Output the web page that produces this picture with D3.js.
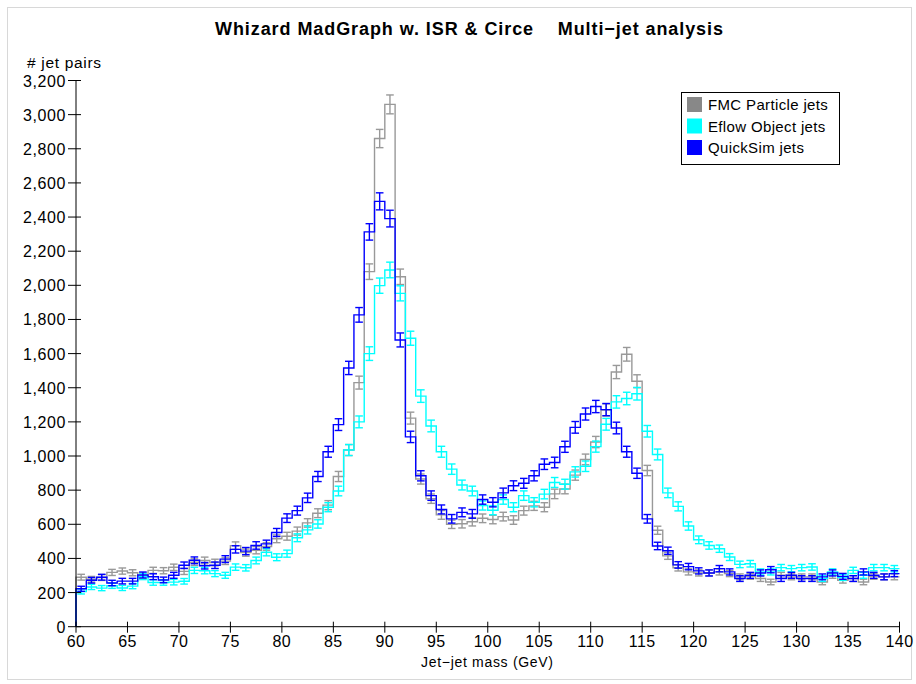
<!DOCTYPE html>
<head>
<style>
  body { margin: 0; background: #fff; }
  text { font-family: "Liberation Sans", Arial, sans-serif; }
</style>
</head>
<body>
<svg id="chart" width="916" height="684"></svg>
</body>

<script src="https://d3js.org/d3.v7.min.js"></script>
<script>

    // jet-jet mass bins: 60..139 GeV, 1 GeV wide (value = lower edge)
    let binLow = d3.range(60, 140)

    let fmcJets = [
        290, 278, 288, 318, 326, 316, 298, 330, 328, 348,
        324, 378, 388, 376, 384, 475, 434, 448, 470, 515,
        530, 560, 608, 665, 712, 880, 1035, 1430, 2080, 2860,
        3060, 2050, 1222, 865, 750, 655, 600, 603, 615, 635,
        628, 645, 625, 680, 708, 700, 778, 807, 888, 980,
        1082, 1270, 1492, 1596, 1438, 915, 565, 415, 345, 321,
        315, 315, 321, 311, 292, 295, 282, 262, 301, 292,
        292, 292, 262, 301, 272, 282, 262, 295, 292, 292
    ]

    let eflowJets = [
        206, 233, 226, 240, 227, 238, 293, 259, 259, 261,
        266, 330, 328, 311, 301, 349, 345, 388, 436, 407,
        428, 521, 567, 602, 700, 795, 1035, 1200, 1600, 1998,
        2090, 1953, 1690, 1351, 1176, 1025, 923, 830, 795, 710,
        682, 745, 700, 768, 729, 777, 845, 835, 907, 940,
        1055, 1186, 1317, 1337, 1365, 1145, 1009, 784, 705, 590,
        509, 476, 457, 408, 365, 369, 321, 321, 346, 340,
        346, 350, 282, 321, 288, 330, 301, 346, 346, 340
    ]

    let quickSimJets = [
        222, 272, 290, 256, 267, 267, 303, 293, 274, 301,
        360, 389, 357, 360, 396, 453, 443, 476, 485, 552,
        636, 680, 755, 880, 1025, 1184, 1516, 1827, 2313, 2492,
        2391, 1680, 1112, 884, 768, 687, 632, 670, 661, 745,
        729, 784, 826, 840, 884, 952, 962, 1054, 1168, 1246,
        1290, 1272, 1164, 1025, 899, 632, 473, 445, 362, 352,
        327, 315, 340, 321, 282, 301, 315, 334, 282, 301,
        282, 282, 292, 315, 295, 282, 321, 301, 292, 311
    ]

    let seriesNames = ["FMC Particle jets", "Eflow Object jets", "QuickSim jets"]
    let seriesColors = ["#999999", "#00ffff", "#0000ff"]
    let legendColors = ["#888888", "#00ffff", "#0000ff"]

    let xTicks = d3.range(60, 141, 5)
    let yTicks = d3.range(0, 3201, 200)

    let svg = d3.select("#chart")

    svg.append("rect")
        .attr("x", 7.5).attr("y", 7.5)
        .attr("width", 904).attr("height", 672)
        .attr("fill", "none")
        .attr("stroke", "#d8d8d8")

    let xScale = d3.scaleLinear().domain([60, 140]).range([76, 899.5])
    let yScale = d3.scaleLinear().domain([0, 3200]).range([626.7, 80.5])

    // histograms
    let allSeries = [fmcJets, eflowJets, quickSimJets]
    allSeries.forEach(function(vals, i) {
        let pts = [[60, 0]]
        vals.forEach(function(v, j) {
            pts.push([binLow[j], v])
            pts.push([binLow[j] + 1, v])
        })
        let line = d3.line()
            .x(d => xScale(d[0]))
            .y(d => yScale(d[1]))

        let g = svg.append("g")
        g.append("path")
            .attr("d", line(pts))
            .attr("fill", "none")
            .attr("stroke", seriesColors[i])
            .attr("stroke-width", 1.4)

        // poisson error bars
        let bars = g.selectAll("g.err")
            .data(vals)
            .enter()
            .append("g")
        let half = (xScale(1) - xScale(0)) * 0.37
        bars.append("line")
            .attr("x1", (d, j) => xScale(binLow[j] + 0.5))
            .attr("x2", (d, j) => xScale(binLow[j] + 0.5))
            .attr("y1", d => yScale(d - Math.sqrt(d)))
            .attr("y2", d => yScale(d + Math.sqrt(d)))
        bars.append("line")
            .attr("x1", (d, j) => xScale(binLow[j] + 0.5) - half)
            .attr("x2", (d, j) => xScale(binLow[j] + 0.5) + half)
            .attr("y1", d => yScale(d + Math.sqrt(d)))
            .attr("y2", d => yScale(d + Math.sqrt(d)))
        bars.append("line")
            .attr("x1", (d, j) => xScale(binLow[j] + 0.5) - half)
            .attr("x2", (d, j) => xScale(binLow[j] + 0.5) + half)
            .attr("y1", d => yScale(d - Math.sqrt(d)))
            .attr("y2", d => yScale(d - Math.sqrt(d)))
        bars.selectAll("line")
            .attr("stroke", seriesColors[i])
            .attr("stroke-width", 1.4)
    })

    // axes
    let axisG = svg.append("g").attr("stroke", "#000")
    axisG.append("line")
        .attr("x1", xScale(60)).attr("x2", xScale(140))
        .attr("y1", yScale(0)).attr("y2", yScale(0))
    axisG.append("line")
        .attr("x1", xScale(60)).attr("x2", xScale(60))
        .attr("y1", yScale(0)).attr("y2", yScale(3200))

    axisG.selectAll("line.xt")
        .data(xTicks).enter().append("line")
        .attr("x1", d => xScale(d)).attr("x2", d => xScale(d))
        .attr("y1", yScale(0) - 5).attr("y2", yScale(0) + 6)
    axisG.selectAll("line.yt")
        .data(yTicks).enter().append("line")
        .attr("x1", xScale(60) - 8).attr("x2", xScale(60) + 5)
        .attr("y1", d => yScale(d)).attr("y2", d => yScale(d))

    svg.selectAll("text.xl")
        .data(xTicks).enter().append("text")
        .attr("x", d => xScale(d))
        .attr("y", 647)
        .attr("text-anchor", "middle")
        .attr("font-size", 16)
        .attr("letter-spacing", 0.4)
        .text(d => d)

    svg.selectAll("text.yl")
        .data(yTicks).enter().append("text")
        .attr("x", 66)
        .attr("y", d => yScale(d) + 6)
        .attr("text-anchor", "end")
        .attr("font-size", 16)
        .attr("letter-spacing", 0.6)
        .text(d => d3.format(",")(d))

    svg.append("text")
        .attr("x", 215).attr("y", 35)
        .attr("font-size", 18)
        .attr("font-weight", "bold")
        .attr("xml:space", "preserve")
        .attr("textLength", 508)
        .attr("lengthAdjust", "spacing")
        .text("Whizard MadGraph w. ISR & Circe    Multi\u2212jet analysis")

    svg.append("text")
        .attr("x", 27).attr("y", 68)
        .attr("font-size", 15.5)
        .attr("textLength", 74)
        .attr("lengthAdjust", "spacing")
        .text("# jet pairs")

    svg.append("text")
        .attr("x", 421).attr("y", 667)
        .attr("font-size", 14)
        .attr("textLength", 132)
        .attr("lengthAdjust", "spacing")
        .text("Jet\u2212jet mass (GeV)")

    // legend
    let legend = svg.append("g")
    legend.append("rect")
        .attr("x", 681.5).attr("y", 92.5)
        .attr("width", 158).attr("height", 72)
        .attr("fill", "#fff").attr("stroke", "#000")
    seriesNames.forEach(function(name, i) {
        legend.append("rect")
            .attr("x", 687).attr("y", 97 + i * 21.5)
            .attr("width", 15).attr("height", 15)
            .attr("fill", legendColors[i])
        legend.append("text")
            .attr("x", 708).attr("y", 110 + i * 21.5)
            .attr("font-size", 15)
            .attr("letter-spacing", 0.35)
            .text(name)
    })

</script>
